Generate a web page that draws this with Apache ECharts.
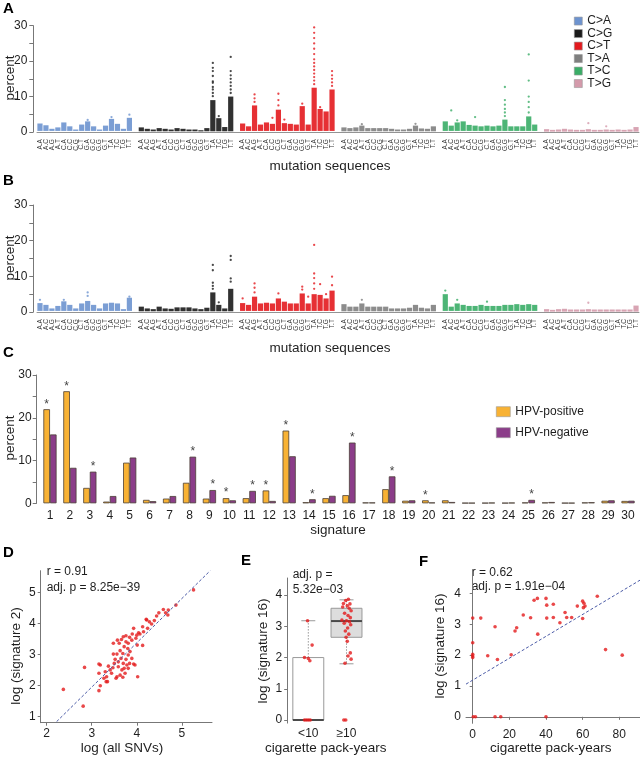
<!DOCTYPE html>
<html>
<head>
<meta charset="utf-8">
<script src="https://cdn.jsdelivr.net/npm/echarts@6/dist/echarts.min.js"></script>
<style>
  html, body { margin: 0; padding: 0; background: #fff; }
  #chart { width: 640px; height: 757px; }
</style>
</head>
<body>
<div id="chart"></div>
<script>
// ---- data ----
const groups = ['C>A', 'C>G', 'C>T', 'T>A', 'T>C', 'T>G'];
const contexts = ['A.A', 'A.C', 'A.G', 'A.T', 'C.A', 'C.C', 'C.G', 'C.T',
                  'G.A', 'G.C', 'G.G', 'G.T', 'T.A', 'T.C', 'T.G', 'T.T'];

// panel A: bottom / top of the dense strip of points per context
const lowA = [0.3, 0.2, 0.3, 0.2, 0.3, 0.1];
const hiA_CA = [2.4, 1.9, 0.9, 1.3, 2.7, 1.6, 0.7, 2.1, 3.0, 1.6, 0.7, 1.8, 3.7, 2.3, 0.9, 4.0];
const hiA_CG = [1.3, 0.9, 0.7, 1.1, 0.9, 0.7, 1.1, 0.9, 0.7, 0.7, 0.5, 1.1, 9.0, 3.9, 1.4, 10.0];
const hiA_CT = [2.4, 1.6, 7.5, 2.1, 2.7, 2.3, 6.3, 2.5, 2.3, 2.1, 7.3, 2.1, 12.5, 6.5, 5.8, 12.0];
const hiA_TA = [1.3, 1.1, 1.3, 1.8, 1.1, 1.1, 1.1, 1.1, 0.9, 0.7, 0.7, 0.9, 1.8, 1.0, 0.9, 1.6];
const hiA_TC = [3.0, 1.8, 2.7, 3.0, 2.0, 1.8, 1.6, 1.8, 1.6, 1.8, 3.5, 1.6, 1.6, 1.6, 4.4, 2.1];
const hiA_TG = [0.8, 0.6, 0.7, 0.9, 0.7, 0.6, 0.6, 0.8, 0.6, 0.6, 0.7, 0.6, 0.7, 0.6, 0.7, 1.4];
// scattered points above the strips: [group, context, percent]
const outA = [
  [0, 15, 4.9], [0, 12, 4.2], [0, 8, 3.4],
  [1, 12, 10.1], [1, 12, 11.0], [1, 12, 12.0], [1, 12, 12.7], [1, 12, 13.9], [1, 12, 14.3],
  [1, 12, 15.8], [1, 12, 17.2], [1, 12, 18.1], [1, 12, 19.5], [1, 13, 4.5],
  [1, 15, 11.0], [1, 15, 12.0], [1, 15, 13.0], [1, 15, 14.0], [1, 15, 15.0], [1, 15, 16.0],
  [1, 15, 17.2], [1, 15, 21.2],
  [2, 2, 8.5], [2, 2, 9.5], [2, 2, 10.6], [2, 5, 4.0], [2, 6, 7.5], [2, 6, 9.0], [2, 6, 10.8],
  [2, 7, 3.5], [2, 10, 8.0], [2, 13, 7.0],
  [2, 12, 13.5], [2, 12, 14.5], [2, 12, 15.5], [2, 12, 16.5], [2, 12, 17.5], [2, 12, 18.5],
  [2, 12, 19.5], [2, 12, 20.5], [2, 12, 22.0], [2, 12, 23.5], [2, 12, 25.0], [2, 12, 26.5],
  [2, 12, 28.0], [2, 12, 29.5], [2, 12, 31.0],
  [2, 15, 13.0], [2, 15, 14.0], [2, 15, 15.0], [2, 15, 16.0], [2, 15, 17.2],
  [3, 12, 2.3], [3, 3, 2.2],
  [4, 1, 6.1], [4, 5, 4.2], [4, 2, 3.3],
  [4, 10, 4.5], [4, 10, 5.5], [4, 10, 6.5], [4, 10, 7.7], [4, 10, 9.0], [4, 10, 12.7],
  [4, 14, 5.5], [4, 14, 7.0], [4, 14, 8.5], [4, 14, 10.0], [4, 14, 14.5], [4, 14, 21.9],
  [5, 7, 2.5], [5, 10, 1.6]
];

// panel B
const lowB = [0.3, 0.2, 0.3, 0.2, 0.3, 0.1];
const hiB_CA = [2.5, 2.0, 1.0, 1.7, 3.0, 2.0, 1.0, 2.4, 3.1, 2.0, 1.0, 2.4, 2.6, 2.4, 0.8, 4.0];
const hiB_CG = [1.5, 1.0, 0.8, 1.5, 1.0, 0.9, 1.3, 1.3, 1.3, 1.0, 0.8, 1.2, 5.5, 2.0, 1.0, 6.5];
const hiB_CT = [2.5, 2.0, 4.3, 2.4, 2.6, 2.4, 3.8, 2.9, 2.4, 2.4, 5.2, 2.4, 5.0, 4.8, 3.8, 6.0];
const hiB_TA = [2.2, 1.5, 1.5, 2.4, 1.5, 1.5, 1.5, 1.5, 1.0, 1.0, 1.0, 1.2, 2.0, 1.2, 1.0, 2.0];
const hiB_TC = [5.0, 1.5, 2.4, 2.0, 1.7, 1.7, 2.0, 1.7, 1.7, 1.7, 2.0, 2.0, 2.2, 2.0, 2.2, 2.0];
const hiB_TG = [0.8, 0.6, 0.8, 0.9, 0.7, 0.7, 0.7, 0.8, 0.7, 0.7, 0.7, 0.7, 0.7, 0.7, 0.7, 1.8];
const outB = [
  [0, 0, 3.4], [0, 4, 3.4], [0, 8, 4.5], [0, 8, 5.5], [0, 15, 4.3],
  [1, 12, 6.5], [1, 12, 7.3], [1, 12, 8.2], [1, 12, 11.7], [1, 12, 13.2], [1, 13, 2.7],
  [1, 15, 8.5], [1, 15, 9.4], [1, 15, 14.6], [1, 15, 15.7],
  [2, 0, 3.8], [2, 2, 5.5], [2, 2, 6.8], [2, 2, 8.0], [2, 6, 5.2], [2, 10, 6.3], [2, 10, 7.1],
  [2, 11, 4.3], [2, 12, 6.5], [2, 12, 8.0], [2, 12, 9.5], [2, 12, 10.8], [2, 12, 18.8],
  [2, 13, 7.8], [2, 14, 5.0], [2, 15, 7.5], [2, 15, 9.9],
  [3, 3, 3.4], [4, 0, 6.0], [4, 2, 3.4], [4, 7, 2.9], [5, 7, 2.6]
];

// panel C
const signatures = Array.from({ length: 30 }, (_, i) => String(i + 1));
const hpvPos = [22.0, 26.2, 3.6, 0.4, 9.5, 0.8, 1.1, 4.8, 1.1, 1.2, 1.2, 3.0, 17.0, 0.25, 1.2,
                1.9, 0.2, 3.3, 0.6, 0.7, 0.7, 0.1, 0.1, 0.1, 0.2, 0.2, 0.1, 0.2, 0.6, 0.55];
const hpvNeg = [16.1, 8.3, 7.4, 1.7, 10.7, 0.5, 1.7, 10.9, 3.1, 0.7, 2.9, 0.55, 11.0, 0.95, 1.75,
                14.2, 0.2, 6.3, 0.7, 0.2, 0.3, 0.1, 0.15, 0.15, 0.8, 0.3, 0.1, 0.25, 0.7, 0.6];
const starred = [1, 2, 3, 8, 9, 10, 11, 12, 13, 14, 16, 18, 20, 25];

// panel D: [log all SNVs, log signature 2]
const panelD = [
  [2.37,1.88],[2.84,2.59],[2.81,1.34],[3.16,2.40],[3.16,2.70],[3.16,1.84],[3.19,2.00],[3.19,2.67],
  [3.27,2.24],[3.30,2.45],[3.32,2.13],[3.33,2.29],[3.35,2.13],[3.37,2.63],[3.41,2.51],[3.44,2.40],
  [3.47,2.58],[3.48,3.02],[3.48,3.37],[3.50,2.72],[3.52,2.85],[3.54,2.24],[3.56,3.02],[3.56,2.29],
  [3.57,3.47],[3.59,2.77],[3.59,2.61],[3.61,3.37],[3.63,3.13],[3.63,2.34],[3.65,2.88],[3.66,3.49],
  [3.67,2.51],[3.69,3.04],[3.69,2.27],[3.70,2.72],[3.70,3.58],[3.72,3.26],[3.72,2.56],[3.74,2.40],
  [3.76,3.61],[3.76,3.42],[3.76,2.85],[3.78,2.67],[3.80,3.20],[3.81,3.37],[3.81,2.99],[3.81,2.56],
  [3.84,3.56],[3.84,2.72],[3.85,3.10],[3.89,3.47],[3.89,2.88],[3.90,3.67],[3.93,2.70],[3.93,3.85],
  [3.96,2.67],[3.98,3.53],[4.00,3.63],[4.01,3.31],[4.02,2.29],[4.04,3.71],[4.07,3.67],[4.13,3.90],
  [4.13,3.30],[4.15,3.74],[4.21,4.14],[4.22,4.12],[4.24,3.85],[4.28,4.06],[4.33,3.99],[4.39,4.10],
  [4.44,4.25],[4.49,4.35],[4.59,4.46],[4.64,4.35],[4.69,4.28],[4.70,4.44],[4.87,4.60],[5.26,5.09]
];
const fitD = [[2.22, 0.84], [5.63, 5.71]];

// panel E: box stats [group, min, q1, median, q3, max]
const packGroups = ['<10', '\u226510'];
const boxE = [[0, 0, 0, 0, 2.0, 3.18], [1, 1.8, 2.65, 3.17, 3.58, 3.85]];
// points: [group + jitter, log signature 16]
const pointsE = [
  [-0.02,3.18],[0.1,2.4],[-0.1,2.0],[0.0,1.97],[0.04,1.9],[-0.1,0],[-0.05,0],[0.0,0],[0.05,0],
  [1.05,3.87],[0.98,3.83],[0.92,3.73],[1.09,3.72],[1.02,3.66],[0.9,3.62],[1.07,3.58],[1.12,3.5],
  [0.95,3.42],[1.04,3.35],[1.1,3.28],[0.88,3.2],[1.0,3.18],[1.08,3.15],[0.94,3.1],[1.11,3.05],
  [1.03,2.95],[0.97,2.85],[1.06,2.75],[0.99,2.65],[1.02,2.52],[1.1,2.15],[1.04,2.05],[1.12,1.95],
  [0.96,1.82],[0.93,0],[0.98,0]
];

// panel F: [pack-years, log signature 16]
const panelF = [
  [0,3.2],[4.4,3.2],[0,2.4],[0,2.03],[0,1.97],[0,1.92],[0.3,0],[1.5,0],[12.2,2.92],[8.2,1.98],
  [13.5,1.86],[12.2,0],[15.3,0],[23.1,2.78],[24,2.89],[21,2.01],[27.6,3.3],[31.6,3.21],[33.5,3.78],
  [35.3,3.84],[35.5,2.68],[40,3.84],[40.4,3.62],[40.4,3.2],[40,0],[44,3.65],[44,3.22],[47.6,3.05],
  [50.4,3.38],[51.3,3.22],[54,3.22],[57.1,3.59],[60,3.75],[60.7,3.68],[61.3,3.59],[60.4,3.54],
  [60,3.19],[68,3.91],[72.5,2.18],[81.6,2.0]
];
const fitF = [[-3.66, 1.06], [91.3, 4.43]];

// ---- styling ----
const FONT = '"Liberation Sans", Arial, Helvetica, sans-serif';
const groupColors = ['#6d93cf', '#1b1b1b', '#e3191e', '#7f7f7f', '#3aad67', '#d49aab'];
const axisGray = '#777';
const textDark = '#1e1e1e';

const hiA = [hiA_CA, hiA_CG, hiA_CT, hiA_TA, hiA_TC, hiA_TG];
const hiB = [hiB_CA, hiB_CG, hiB_CT, hiB_TA, hiB_TC, hiB_TG];

// 16 contexts per group, one empty slot between groups
const slotNames = [];
groups.forEach((g, gi) => {
  contexts.forEach(c => slotNames.push(c));
  if (gi < groups.length - 1) slotNames.push('');
});
const slotOf = (g, i) => g * 17 + i;

function stripItem(params, api) {
  const x = api.value(0);
  const top = api.coord([x, api.value(2)]);
  const bot = api.coord([x, api.value(1)]);
  return {
    type: 'rect',
    shape: { x: top[0] - 2.6, y: top[1], width: 5.2, height: Math.max(bot[1] - top[1], 1.2) },
    style: { fill: api.visual('color'), opacity: 0.9 }
  };
}

const boxFills = ['#ffffff', '#dddddd'];
function boxItem(params, api) {
  const c = api.value(0);
  const pMin = api.coord([c, api.value(1)]);
  const pQ1 = api.coord([c, api.value(2)]);
  const pMed = api.coord([c, api.value(3)]);
  const pQ3 = api.coord([c, api.value(4)]);
  const pMax = api.coord([c, api.value(5)]);
  const half = api.size([1, 0])[0] * 0.405;
  const x = pMed[0];
  const cap = 7;
  const dot = { stroke: '#999', lineWidth: 1, lineDash: [1.5, 1.5] };
  const solid = { stroke: '#999', lineWidth: 1 };
  return {
    type: 'group',
    children: [
      { type: 'line', shape: { x1: x, y1: pQ3[1], x2: x, y2: pMax[1] }, style: dot },
      { type: 'line', shape: { x1: x, y1: pQ1[1], x2: x, y2: pMin[1] }, style: dot },
      { type: 'line', shape: { x1: x - cap, y1: pMax[1], x2: x + cap, y2: pMax[1] }, style: solid },
      { type: 'line', shape: { x1: x - cap, y1: pMin[1], x2: x + cap, y2: pMin[1] }, style: solid },
      { type: 'rect', shape: { x: x - half, y: pQ3[1], width: half * 2, height: pQ1[1] - pQ3[1] },
        style: { fill: boxFills[params.dataIndex], stroke: '#999', lineWidth: 1 } },
      { type: 'line', shape: { x1: x - half, y1: pMed[1], x2: x + half, y2: pMed[1] },
        style: { stroke: '#4a4a4a', lineWidth: 2 } }
    ]
  };
}

function strip(gridIdx) {
  return {
    x: {
      type: 'category', gridIndex: gridIdx, data: slotNames, offset: 3.6,
      axisLine: { lineStyle: { color: axisGray, width: 0.8 } },
      axisTick: { alignWithLabel: true, length: 2.5, interval: (i, v) => v !== '',
                  lineStyle: { color: axisGray, width: 0.8 } },
      axisLabel: { interval: 0, rotate: 90, fontSize: 6.5, margin: 3.5, color: '#333', fontFamily: FONT }
    },
    y: {
      type: 'value', gridIndex: gridIdx, min: 0, max: 30, interval: 5, offset: 3.7,
      axisLine: { show: true, lineStyle: { color: axisGray } },
      axisTick: { show: true, length: 4, lineStyle: { color: axisGray } },
      splitLine: { show: false },
      axisLabel: { fontSize: 12, margin: 6, color: textDark, fontFamily: FONT,
                   formatter: v => (v % 10 === 0 ? String(v) : '') }
    }
  };
}

function sciAxis(gridIdx, min, max, ticks, extra) {
  return Object.assign({
    type: 'value', gridIndex: gridIdx, min: min, max: max,
    axisLine: { show: true, lineStyle: { color: axisGray } },
    axisTick: { show: true, length: 3, customValues: ticks, lineStyle: { color: axisGray } },
    axisLabel: { customValues: ticks, fontSize: 12, color: textDark, fontFamily: FONT, margin: 5 },
    splitLine: { show: false }
  }, extra || {});
}

const sA = strip(0), sB = strip(1);

const xAxes = [
  sA.x, sB.x,
  { type: 'category', gridIndex: 2, data: signatures,
    axisLine: { show: false }, axisTick: { show: false },
    axisLabel: { interval: 0, fontSize: 12, margin: 6, color: textDark, fontFamily: FONT } },
  sciAxis(3, 1.867, 5.67, [2, 3, 4, 5]),
  { type: 'category', gridIndex: 4, data: packGroups,
    axisLine: { show: false }, axisTick: { show: false },
    axisLabel: { fontSize: 12, margin: 5, color: textDark, fontFamily: FONT } },
  { type: 'value', gridIndex: 5, min: -0.5, max: 1.5, show: false },
  sciAxis(6, -3.66, 91.3, [0, 20, 40, 60, 80])
];

const yAxes = [
  sA.y, sB.y,
  { type: 'value', gridIndex: 2, min: 0, max: 30, interval: 5, offset: 3.3,
    axisLine: { show: true, lineStyle: { color: axisGray } },
    axisTick: { show: true, length: 4, lineStyle: { color: axisGray } },
    splitLine: { show: false },
    axisLabel: { fontSize: 12, margin: 5, color: textDark, fontFamily: FONT,
                 formatter: v => (v % 10 === 0 ? String(v) : '') } },
  sciAxis(3, 0.806, 5.71, [1, 2, 3, 4, 5]),
  sciAxis(4, -0.1, 4.55, [0, 1, 2, 3, 4], { offset: 2 }),
  { type: 'value', gridIndex: 5, min: -0.1, max: 4.55, show: false },
  sciAxis(6, -0.21, 4.76, [0, 1, 2, 3, 4])
];

const series = [];
[[hiA, lowA, outA, 0], [hiB, lowB, outB, 1]].forEach(([hi, low, out, gi]) => {
  groups.forEach((g, k) => {
    series.push({
      type: 'custom', name: g, xAxisIndex: gi, yAxisIndex: gi,
      renderItem: stripItem, itemStyle: { color: groupColors[k] },
      encode: { x: 0, y: 2 },
      data: hi[k].map((v, i) => [slotOf(k, i), low[k], v])
    });
    series.push({
      type: 'scatter', name: g, xAxisIndex: gi, yAxisIndex: gi,
      symbolSize: 2.3, itemStyle: { color: groupColors[k] },
      data: out.filter(o => o[0] === k).map(o => [slotOf(k, o[1]), o[2]])
    });
  });
});

const barBorder = { borderColor: '#4b4036', borderWidth: 0.8 };
const starLabel = { formatter: '*', position: 'top', distance: -1, fontSize: 12, color: '#444', fontFamily: FONT };
series.push({
  type: 'bar', name: 'HPV-positive', xAxisIndex: 2, yAxisIndex: 2,
  barWidth: 6.6, barGap: '0%',
  itemStyle: Object.assign({ color: '#f8b234' }, barBorder), label: starLabel,
  data: hpvPos.map((v, i) => ({ value: v, label: { show: starred.includes(i + 1) && v >= hpvNeg[i] } }))
});
series.push({
  type: 'bar', name: 'HPV-negative', xAxisIndex: 2, yAxisIndex: 2,
  barWidth: 6.6, barGap: '0%',
  itemStyle: Object.assign({ color: '#8b3d89' }, barBorder), label: starLabel,
  data: hpvNeg.map((v, i) => ({ value: v, label: { show: starred.includes(i + 1) && v > hpvPos[i] } }))
});

const fitStyle = { color: '#4a5aa6', width: 1, type: [3, 2] };
series.push({ type: 'line', xAxisIndex: 3, yAxisIndex: 3, data: fitD, symbol: 'none', lineStyle: fitStyle, silent: true });
series.push({ type: 'scatter', xAxisIndex: 3, yAxisIndex: 3, data: panelD, symbolSize: 3.6, itemStyle: { color: '#e41a1c' } });

series.push({ type: 'custom', xAxisIndex: 4, yAxisIndex: 4, renderItem: boxItem, encode: { x: 0, y: [1, 5] }, data: boxE });
series.push({ type: 'scatter', xAxisIndex: 5, yAxisIndex: 5, data: pointsE, symbolSize: 3.6, itemStyle: { color: '#e41a1c' }, z: 5 });

series.push({ type: 'line', xAxisIndex: 6, yAxisIndex: 6, data: fitF, symbol: 'none', lineStyle: fitStyle, silent: true });
series.push({ type: 'scatter', xAxisIndex: 6, yAxisIndex: 6, data: panelF, symbolSize: 3.6, itemStyle: { color: '#e41a1c' } });

function label(text, x, y, opts) {
  const o = opts || {};
  return {
    type: 'text', x: x, y: y, rotation: o.rot || 0,
    style: {
      text: text, x: 0, y: 0, fill: o.color || textDark,
      font: (o.bold ? 'bold ' : '') + (o.size || 13.5) + 'px ' + FONT,
      textAlign: o.align || 'center', textVerticalAlign: 'middle'
    }
  };
}
const R = Math.PI / 2;

const option = {
  animation: false,
  backgroundColor: '#ffffff',
  grid: [
    { left: 37, right: 1, top: 25.7, height: 106.3 },
    { left: 37, right: 1, top: 205, height: 107 },
    { left: 40, right: 2, top: 375, height: 128.3 },
    { left: 40.7, width: 171.3, top: 570.7, height: 152 },
    { left: 289.2, width: 76.4, top: 578, height: 145.1 },
    { left: 289.2, width: 76.4, top: 578, height: 145.1 },
    { left: 466, width: 174, top: 570, height: 153.3 }
  ],
  xAxis: xAxes,
  yAxis: yAxes,
  legend: [
    { data: groups, orient: 'vertical', left: 569, top: 9.8, itemWidth: 8, itemHeight: 8, itemGap: 0,
      icon: 'rect',
      itemStyle: { borderColor: '#999', borderWidth: 0.6 },
      textStyle: { fontSize: 12, lineHeight: 12.5, color: textDark, fontFamily: FONT }, selectedMode: false },
    { data: ['HPV-positive', 'HPV-negative'], orient: 'vertical', left: 491, top: 399.7,
      itemWidth: 14, itemHeight: 10, itemGap: 7, icon: 'rect',
      itemStyle: { borderColor: '#9a9a9a', borderWidth: 0.6 },
      textStyle: { fontSize: 12, lineHeight: 14, color: textDark, fontFamily: FONT }, selectedMode: false }
  ],
  graphic: [
    label('A', 3, 9, { bold: true, size: 15, align: 'left', color: '#000' }),
    label('B', 3, 180.5, { bold: true, size: 15, align: 'left', color: '#000' }),
    label('C', 3, 353, { bold: true, size: 15, align: 'left', color: '#000' }),
    label('D', 3, 553, { bold: true, size: 15, align: 'left', color: '#000' }),
    label('E', 241, 561, { bold: true, size: 15, align: 'left', color: '#000' }),
    label('F', 419, 562, { bold: true, size: 15, align: 'left', color: '#000' }),
    label('percent', 10, 78, { rot: R }),
    label('percent', 10, 258, { rot: R }),
    label('percent', 10, 438, { rot: R }),
    label('mutation sequences', 330, 166.5),
    label('mutation sequences', 330, 348.5),
    label('signature', 338, 530.5),
    label('log (signature 2)', 16.5, 656, { rot: R }),
    label('log (all SNVs)', 122, 748.3),
    label('r = 0.91', 46.7, 571.7, { align: 'left', size: 12 }),
    label('adj. p = 8.25e\u221239', 46.7, 587.5, { align: 'left', size: 12 }),
    label('log (signature 16)', 263.3, 651, { rot: R }),
    label('cigarette pack-years', 325.8, 748.3),
    label('adj. p =', 292.7, 575, { align: 'left', size: 12 }),
    label('5.32e\u221203', 292.7, 590, { align: 'left', size: 12 }),
    label('log (signature 16)', 440, 646, { rot: R }),
    label('cigarette pack-years', 550.8, 748.3),
    label('r = 0.62', 471.7, 572.8, { align: 'left', size: 12 }),
    label('adj. p = 1.91e\u221204', 471.7, 587, { align: 'left', size: 12 })
  ],
  series: series
};

const chart = echarts.init(document.getElementById('chart'));
chart.setOption(option);
</script>
</body>
</html>
